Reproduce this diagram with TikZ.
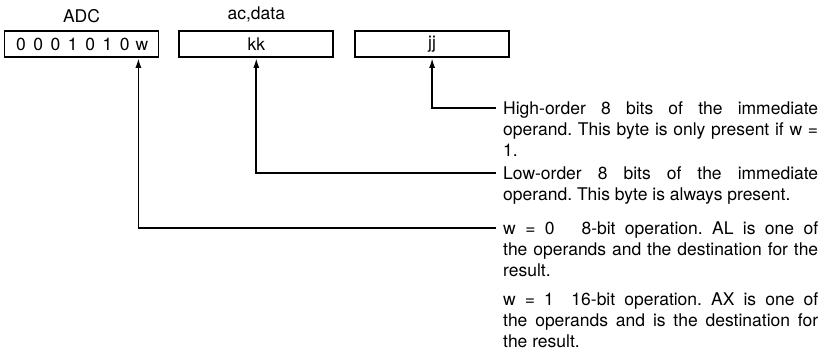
\documentclass[tikz,border=0pt]{standalone}
\usepackage{fontspec}
\setmainfont{TeX Gyre Heros}
\usetikzlibrary{arrows.meta,calc,positioning}
\frenchspacing
\newcommand{\bitcell}[1]{\makebox[17.3pt]{#1}}
\newcommand{\pointer}[2]{%
  \draw[ptr] (#1) -| (#2);}

\begin{document}
\begin{tikzpicture}[x=1pt,y=-1pt,
  fieldbox/.style={draw,line width=1.8pt,minimum width=154pt,minimum height=26pt,inner sep=0pt},
  desc/.style={text width=315pt,align=justify,inner sep=0pt,anchor=base west},
  ptr/.style={-{Latex[length=10pt,width=6pt]},line width=1.8pt},
  font=\fontsize{17.5}{21}\selectfont]
  \useasboundingbox (0,0) rectangle (825,362);
  \node[fieldbox] (opcode) at (81.5,44) {\bitcell{0}\bitcell{0}\bitcell{0}\bitcell{1}\bitcell{0}\bitcell{1}\bitcell{0}\bitcell{w}};
  \node[fieldbox,right=19pt of opcode] (lowbyte) {kk};
  \node[fieldbox,right=20pt of lowbyte] (highbyte) {jj};
  \node[above=4pt of opcode] (mnem) {ADC};
  \node[above=4pt of lowbyte] (oprs) {ac,data};
  \coordinate (wbit) at ($(opcode.south east)+(-21,0)$);
  % descriptions
  \node[desc] (deschi) at (503,114) {High-order 8 bits of the immediate\linebreak
    operand. This byte is only present if w =\linebreak 1.};
  \node[desc] (desclo) at (503,179) {Low-order 8 bits of the immediate\linebreak
    operand. This byte is always present.};
  \node[desc] (descw0) at (503,234) {w = 0\quad\ 8-bit operation. AL is one of\linebreak
    the operands and the destination for the\linebreak result.};
  \node[desc,below=16pt of descw0.south west,anchor=north west] (descw1) {w = 1\quad 16-bit operation. AX is one of\linebreak
    the operands and is the destination for\linebreak the result.};
  \coordinate (hiend) at (496,108);
  \coordinate (loend) at (496,173);
  \coordinate (w0end) at (496,228);
  \pointer{hiend}{highbyte.south}
  \pointer{loend}{lowbyte.south}
  \pointer{w0end}{wbit}
\end{tikzpicture}
\end{document}
